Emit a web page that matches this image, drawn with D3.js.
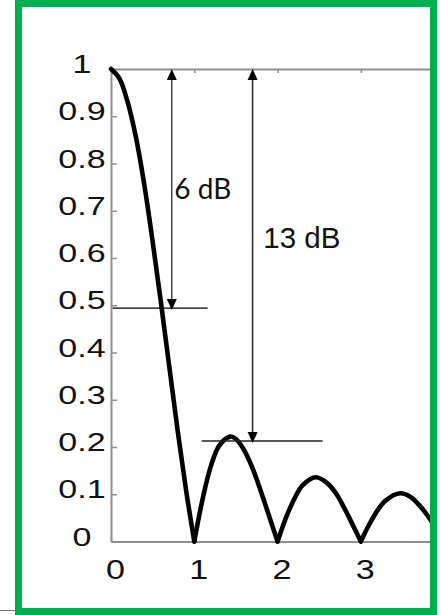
<!DOCTYPE html>
<html>
<head>
<meta charset="utf-8">
<script src="https://cdn.jsdelivr.net/npm/d3@7"></script>
<style>
  html, body { margin: 0; padding: 0; background: #fff; }
  svg { display: block; }
</style>
</head>
<body>
<svg id="chart" width="441" height="615"></svg>
<script>
// ---- data ----
const curveX = [0, 0.1, 0.2, 0.3, 0.4, 0.5, 0.6, 0.7, 0.8, 0.9, 1.0,
                1.1, 1.2, 1.3, 1.43, 1.5, 1.6, 1.7, 1.8, 1.9, 2.0,
                2.1, 2.2, 2.3, 2.46, 2.6, 2.7, 2.8, 2.9, 3.0,
                3.1, 3.2, 3.3, 3.47, 3.6, 3.7, 3.8, 3.9, 4.0];
const curveY = [1.0, 0.98, 0.93, 0.855, 0.755, 0.635, 0.505, 0.37, 0.235, 0.11, 0,
                0.09, 0.16, 0.203, 0.222, 0.217, 0.193, 0.155, 0.106, 0.053, 0,
                0.05, 0.09, 0.119, 0.136, 0.123, 0.102, 0.071, 0.036, 0,
                0.036, 0.066, 0.087, 0.102, 0.094, 0.077, 0.055, 0.028, 0];
const xTicks = [0, 1, 2, 3];
const xTickLabels = ["0", "1", "2", "3"];
const yTicks = [0, 0.1, 0.2, 0.3, 0.4, 0.5, 0.6, 0.7, 0.8, 0.9, 1];
const yTickLabels = ["0", "0.1", "0.2", "0.3", "0.4", "0.5", "0.6", "0.7", "0.8", "0.9", "1"];
// annotations: arrow x positions, reference levels, labels
const arrowX = [0.73, 1.70];
const arrowLevel = [0.494, 0.2127];
const levelLineFrom = [0.02, 1.09];
const levelLineTo = [1.16, 2.54];
const arrowLabels = ["6 dB", "13 dB"];

// ---- layout ----
const svg = d3.select("#chart");
const x = d3.scaleLinear().domain([0, 3.83]).range([111, 430]);
const y = d3.scaleLinear().domain([0, 1]).range([541.5, 69]);
const axisColor = "#8f8f8f";
const tickFont = "'Liberation Sans', Arial, sans-serif";

svg.append("defs").append("clipPath").attr("id", "clip")
  .append("rect").attr("x", 0).attr("y", 0).attr("width", 430).attr("height", 615);

const g = svg.append("g").attr("clip-path", "url(#clip)");

// left axis
const yAxis = g.append("g").attr("transform", `translate(${x(0)},0)`)
  .call(d3.axisLeft(y).tickValues(yTicks).tickSize(-6).tickSizeOuter(0)
    .tickFormat((d, i) => yTickLabels[i]));
yAxis.select(".domain").attr("stroke", axisColor).attr("stroke-width", 2);
yAxis.selectAll(".tick line").attr("stroke", axisColor).attr("stroke-width", 1.5);
yAxis.selectAll(".tick text")
  .attr("x", 0).attr("y", 0).attr("dy", 0)
  .attr("text-anchor", "middle")
  .attr("transform", `translate(${82 - x(0)},3.5) scale(1.31,1)`)
  .attr("font-family", tickFont).attr("font-size", 26).attr("fill", "#111");

// bottom axis
const xAxis = g.append("g").attr("transform", `translate(0,${y(0)})`)
  .call(d3.axisBottom(x).tickValues(xTicks).tickSize(-4).tickSizeOuter(0)
    .tickFormat((d, i) => xTickLabels[i]));
xAxis.select(".domain").attr("stroke", axisColor).attr("stroke-width", 2);
xAxis.selectAll(".tick line").attr("stroke", axisColor).attr("stroke-width", 1.5);
xAxis.selectAll(".tick text")
  .attr("x", 0).attr("y", 0).attr("dy", 0)
  .attr("transform", "translate(4,37.5) scale(1.22,1)")
  .attr("font-family", tickFont).attr("font-size", 28).attr("fill", "#111");

// top frame axis
const tAxis = g.append("g").attr("transform", `translate(0,${y(1)})`)
  .call(d3.axisTop(x).tickValues(xTicks).tickSize(-4).tickSizeOuter(0).tickFormat(""));
tAxis.select(".domain").attr("stroke", axisColor).attr("stroke-width", 2);
tAxis.selectAll(".tick line").attr("stroke", axisColor).attr("stroke-width", 1.5);

// curve, split into lobes at the zeros
const pts = curveX.map((v, i) => [v, curveY[i]]);
const lobes = [];
let cur = [];
pts.forEach((p, i) => {
  cur.push(p);
  if (p[1] === 0 && i > 0) { lobes.push(cur); cur = [p]; }
});
if (cur.length > 1) lobes.push(cur);
const line = d3.line().x(d => x(d[0])).y(d => y(d[1])).curve(d3.curveCatmullRom.alpha(0.5));
g.selectAll("path.lobe").data(lobes).join("path").attr("class", "lobe")
  .attr("d", line).attr("fill", "none").attr("stroke", "#000")
  .attr("stroke-width", 4.6).attr("stroke-linejoin", "miter").attr("stroke-linecap", "round");

// reference level lines
g.append("line").attr("x1", x(levelLineFrom[0])).attr("x2", x(levelLineTo[0]))
  .attr("y1", y(arrowLevel[0])).attr("y2", y(arrowLevel[0]))
  .attr("stroke", "#000").attr("stroke-width", 1.1);
g.append("line").attr("x1", x(levelLineFrom[1])).attr("x2", x(levelLineTo[1]))
  .attr("y1", y(arrowLevel[1])).attr("y2", y(arrowLevel[1]))
  .attr("stroke", "#222").attr("stroke-width", 1.6);

// double-headed arrows
function arrow(ax, level, w, color) {
  const px = x(ax), top = y(1), bot = y(level);
  g.append("line").attr("x1", px).attr("x2", px).attr("y1", top + 8).attr("y2", bot - 8)
    .attr("stroke", color).attr("stroke-width", w);
  g.append("path").attr("d", `M${px},${top} L${px - 5},${top + 11} L${px + 5},${top + 11} Z`).attr("fill", "#000");
  g.append("path").attr("d", `M${px},${bot + 2} L${px - 5},${bot - 9} L${px + 5},${bot - 9} Z`).attr("fill", "#000");
}
arrow(arrowX[0], arrowLevel[0], 1.1, "#000");
arrow(arrowX[1], arrowLevel[1], 1.6, "#333");

// labels
g.append("text").attr("x", 174.3).attr("y", 199).text(arrowLabels[0])
  .attr("font-family", "Lato, 'Open Sans', sans-serif").attr("font-size", 28).attr("fill", "#111");
g.append("text").attr("x", 263.3).attr("y", 248.3).text(arrowLabels[1])
  .attr("font-family", tickFont).attr("font-size", 29.5).attr("fill", "#111");

// small grey remnant line bottom-left
svg.append("line").attr("x1", 0).attr("x2", 15).attr("y1", 610.5).attr("y2", 610.5)
  .attr("stroke", "#777").attr("stroke-width", 1);

// green frame
svg.append("rect").attr("x", 18.5).attr("y", 3.5).attr("width", 415).attr("height", 608)
  .attr("fill", "none").attr("stroke", "#00b050").attr("stroke-width", 7);
</script>
</body>
</html>
